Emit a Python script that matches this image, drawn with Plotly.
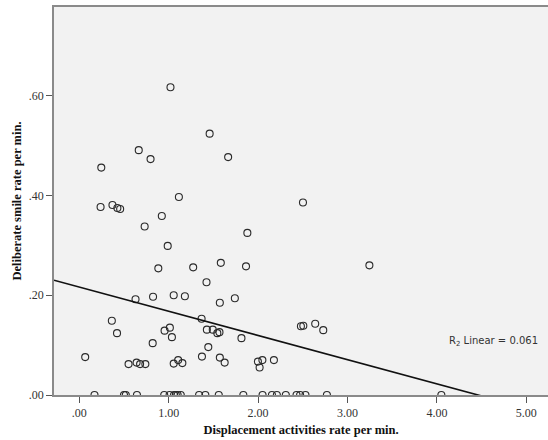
import plotly.graph_objects as go

# Displacement activities (per min.) vs. deliberate smiles (per min.)
displacement_rate = [
    1.020, 1.458, 0.665, 0.797, 1.665, 0.246, 1.114, 2.502, 0.238, 0.371,
    0.426, 0.457, 0.923, 0.731, 1.880, 0.989, 3.245, 0.884, 1.274, 1.583,
    1.865, 1.423, 0.629, 0.825, 1.056, 1.181, 1.740, 1.572, 0.364, 1.368,
    0.422, 0.954, 1.013, 1.036, 1.427, 1.493, 1.544, 1.568, 2.479, 2.506,
    2.639, 2.729, 0.821, 1.814, 1.443, 0.066, 0.551, 0.641, 0.680, 0.739,
    1.056, 1.106, 1.153, 1.372, 1.572, 1.626, 1.998, 2.048, 2.017, 2.177,
    # subjects with no deliberate smiles
    0.170, 0.500, 0.520, 0.645, 0.950, 1.010, 1.060, 1.080, 1.100, 1.135,
    1.340, 1.410, 1.560, 1.835, 2.050, 2.155, 2.210, 2.310, 2.430, 2.470,
    2.530, 2.770, 4.050,
]
smile_rate = [
    0.617, 0.524, 0.491, 0.473, 0.477, 0.456, 0.397, 0.386, 0.377, 0.381,
    0.375, 0.373, 0.359, 0.338, 0.325, 0.299, 0.260, 0.254, 0.256, 0.265,
    0.258, 0.226, 0.192, 0.197, 0.200, 0.198, 0.194, 0.185, 0.149, 0.153,
    0.124, 0.129, 0.135, 0.116, 0.131, 0.131, 0.124, 0.126, 0.138, 0.139,
    0.143, 0.130, 0.104, 0.114, 0.096, 0.076, 0.062, 0.065, 0.062, 0.062,
    0.063, 0.070, 0.064, 0.077, 0.075, 0.065, 0.067, 0.070, 0.055, 0.070,
    0.0, 0.0, 0.0, 0.0, 0.0, 0.0, 0.0, 0.0, 0.0, 0.0,
    0.0, 0.0, 0.0, 0.0, 0.0, 0.0, 0.0, 0.0, 0.0, 0.0,
    0.0, 0.0, 0.0,
]

# Linear fit (R^2 = 0.061)
fit_intercept = 0.2163
fit_slope = -0.0485
r2_text = "R<sub>2</sub> Linear = 0.061"

x_tick_vals = [0, 1, 2, 3, 4, 5]
x_tick_text = [".00", "1.00", "2.00", "3.00", "4.00", "5.00"]
y_tick_vals = [0.0, 0.2, 0.4, 0.6]
y_tick_text = [".00", ".20", ".40", ".60"]

x_range = [-0.283, 5.243]
y_range = [0.0, 0.778]

fit_x = [x_range[0], x_range[1]]
fit_y = [fit_intercept + fit_slope * v for v in fit_x]

fig = go.Figure()
fig.add_trace(go.Scatter(
    x=displacement_rate, y=smile_rate, mode="markers",
    marker=dict(symbol="circle-open", size=7, color="#2a2a2a",
                line=dict(width=1.1, color="#2a2a2a")),
    cliponaxis=True, showlegend=False, hoverinfo="x+y",
))
fig.add_trace(go.Scatter(
    x=fit_x, y=fit_y, mode="lines",
    line=dict(color="#111111", width=1.6),
    showlegend=False, hoverinfo="skip",
))

fig.add_annotation(
    x=4.11, y=0.107, xref="x", yref="y", text=r2_text, showarrow=False,
    xanchor="left", yanchor="middle",
    font=dict(family="DejaVu Sans, Arial, sans-serif", size=10, color="#333333"),
)

serif = "Liberation Serif, Times New Roman, serif"
axis_line = "#8a8a8a"

fig.update_layout(
    width=548, height=440,
    margin=dict(l=54, r=0, t=7, b=45),
    paper_bgcolor="white",
    plot_bgcolor="#f2f2f2",
    font=dict(family=serif, size=12, color="#333333"),
    xaxis=dict(
        range=x_range, tickvals=x_tick_vals, ticktext=x_tick_text,
        showgrid=False, zeroline=False,
        showline=True, linecolor=axis_line, linewidth=1.5, mirror=True,
        ticks="outside", ticklen=6, tickwidth=1, tickcolor="#555555",
        tickfont=dict(family=serif, size=12, color="#333333"),
        title=dict(text="<b>Displacement activities rate per min.</b>",
                   font=dict(family=serif, size=12.5, color="#111111"),
                   standoff=6),
    ),
    yaxis=dict(
        range=y_range, tickvals=y_tick_vals, ticktext=y_tick_text,
        showgrid=False, zeroline=False,
        showline=True, linecolor=axis_line, linewidth=1.5, mirror=False,
        ticks="outside", ticklen=6, tickwidth=1, tickcolor="#555555",
        tickfont=dict(family=serif, size=12, color="#333333"),
        title=dict(text="<b>Deliberate smile rate per min.</b>",
                   font=dict(family=serif, size=12.5, color="#111111"),
                   standoff=4),
    ),
)

fig.write_html("out.html")
